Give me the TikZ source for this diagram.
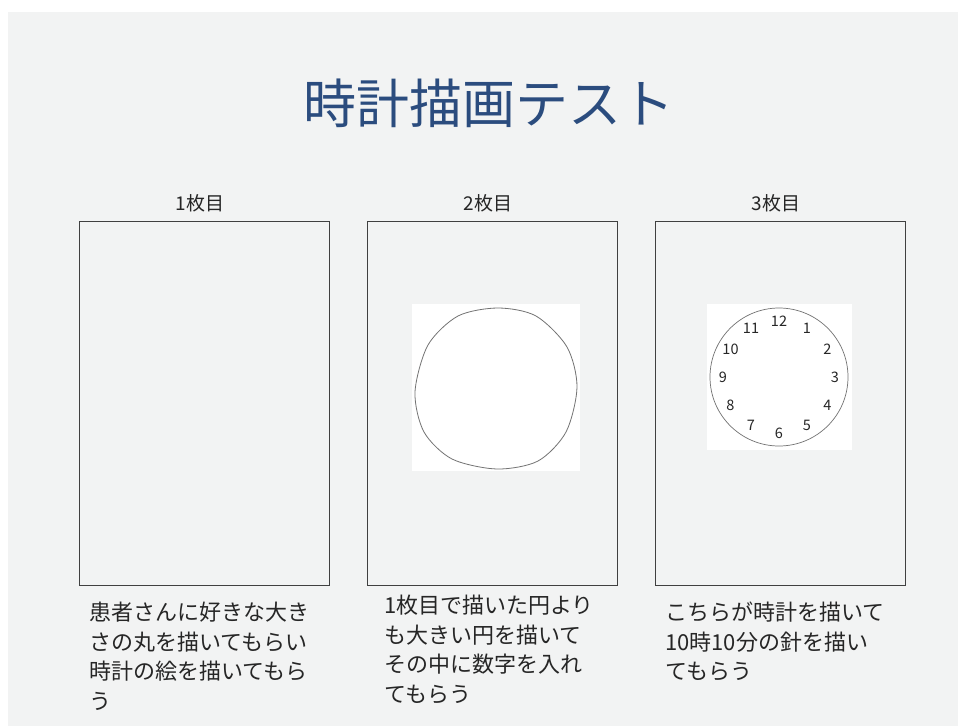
\documentclass[tikz,border=0pt]{standalone}
\usepackage{fontspec}
\setmainfont{Noto Sans CJK JP}
\usepackage{xcolor}
\usepackage{tikz}
\usetikzlibrary{positioning}

\definecolor{titleblue}{HTML}{2B4C7E}
\definecolor{slidegray}{HTML}{F2F3F3}
\definecolor{inkgray}{HTML}{262626}

\tikzset{
  sheet/.style={draw=black!75, line width=0.9pt, minimum width=250pt, minimum height=364pt, inner sep=0pt},
  sheethead/.style={font=\fontsize{19}{22}\selectfont, text=inkgray, inner sep=0pt, xshift=-4pt},
  note/.style={anchor=north west, align=left, inner sep=0pt, font=\fontsize{22}{29.5}\selectfont, text=inkgray},
  dial/.style={font=\fontsize{14.5}{14.5}\selectfont, text=inkgray, inner sep=0pt},
}

\begin{document}
\begin{tikzpicture}[x=1pt, y=-1pt]
    \useasboundingbox[fill=white] (0,0) rectangle (958,726);
    \fill[slidegray] (8,12) rectangle (958,726);

    \node[text=titleblue, font=\fontsize{53}{60}\selectfont] (title) at (489,103) {時計描画テスト};

    % three sheets
    \node[sheet] (sheet1) at (204,403) {};
    \node[sheet] (sheet2) at (492,403) {};
    \node[sheet] (sheet3) at (780,403) {};
    \node[sheethead, above=8pt of sheet1] (head1) {1枚目};
    \node[sheethead, above=8pt of sheet2] (head2) {2枚目};
    \node[sheethead, above=8pt of sheet3] (head3) {3枚目};

    % sheet 2: the free-hand circle
    \fill[white] (412,304) rectangle (580,471);
    \draw[black!55, line width=0.8pt] plot[smooth cycle] coordinates {
      (577,387) (567,347) (536,316) (498,308) (458,316) (428,345)
      (415,392) (424,432) (452,459) (497,469) (538,461) (566,432)};

    % sheet 3: clock face with numbers
    \fill[white] (707,304) rectangle (852,450);
    \coordinate (dial) at (779,377);
    \draw[black!55, line width=0.7pt] (dial) circle[radius=69pt];
    \foreach \i in {1,...,12}
      \node[dial] (num\i) at ([shift={(90-30*\i:56pt)}]dial) {\i};

    \node[note] (note1) at (89,602) {患者さんに好きな大き\\さの丸を描いてもらい\\時計の絵を描いてもら\\う};
    \node[note] (note2) at (384,595) {1枚目で描いた円より\\も大きい円を描いて\\その中に数字を入れ\\てもらう};
    \node[note] (note3) at (665,602) {こちらが時計を描いて\\10時10分の針を描い\\てもらう};
\end{tikzpicture}
\end{document}
